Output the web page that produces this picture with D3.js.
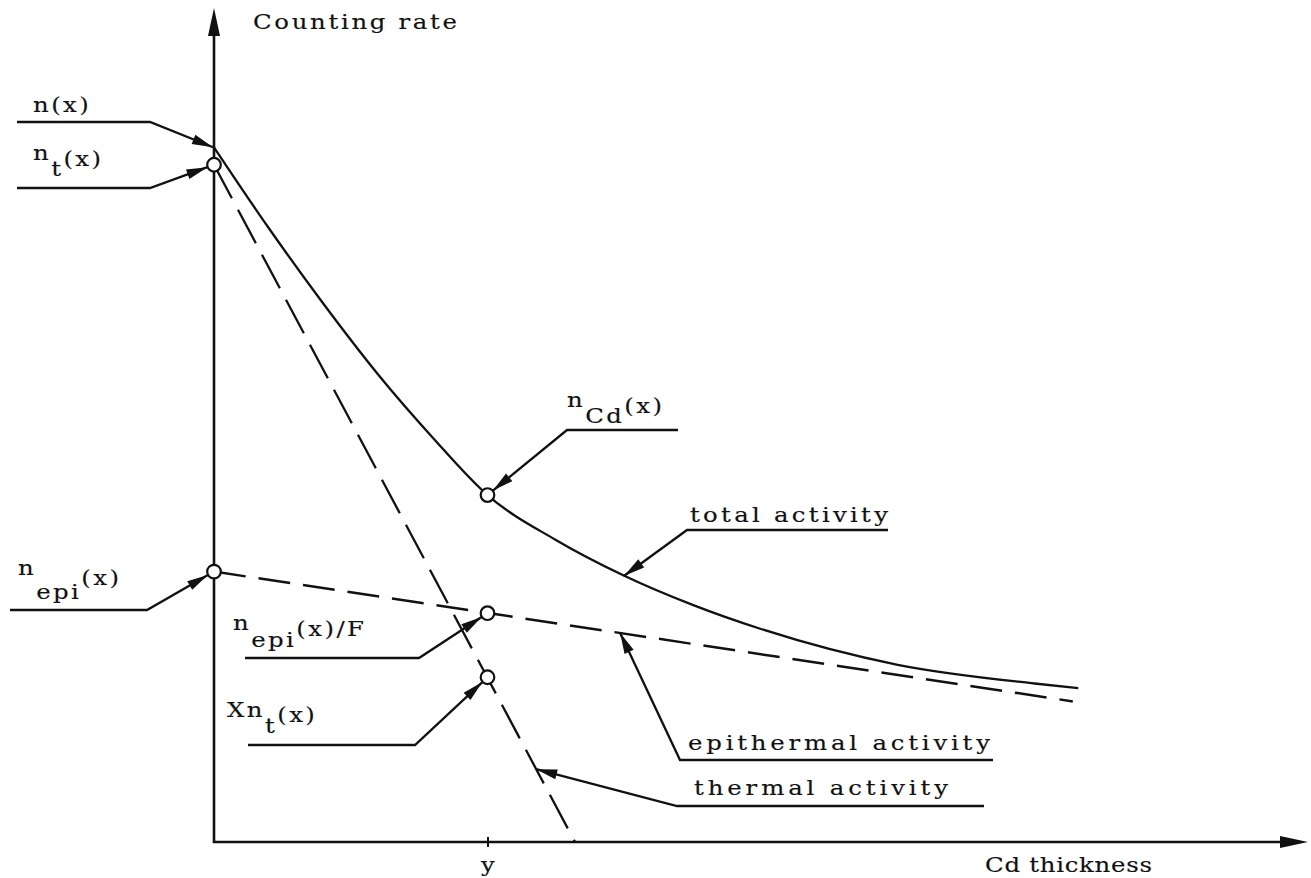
<!DOCTYPE html>
<html>
<head>
<meta charset="utf-8">
<script src="https://cdn.jsdelivr.net/npm/d3@7"></script>
<style>
  body { margin: 0; background: #fff; }
  text { font-family: "DejaVu Serif", serif; font-size: 20px; fill: #111; stroke: #111; stroke-width: 0.15px; }
</style>
</head>
<body>
<svg id="chart" width="1311" height="878"></svg>
<script>
// Cd thickness (x, arbitrary units, y = 1) and counting rate
const totalThickness = [0, 0.2, 0.4, 0.6, 0.8, 1.0, 1.25, 1.5, 1.75, 2.0, 2.5, 3.0, 3.16];
const totalRate = [83.5, 73.8, 64.7, 56.2, 48.6, 41.7, 36.3, 32.0, 28.5, 25.6, 21.3, 19.05, 18.5];
const epiThickness = [0, 3.14];
const epiRate = [32.5, 16.9];
const thermalThickness = [0, 1.32];
const thermalRate = [81.4, 0];
// open circles: n_t(x), n_epi(x), n_Cd(x), n_epi(x)/F, Xn_t(x)
const markThickness = [0, 0, 1, 1, 1];
const markRate = [81.4, 32.5, 41.7, 27.5, 19.8];
const tickValues = [1];
const tickLabels = ['y'];
const xTitle = 'Cd thickness';
const yTitle = 'Counting rate';

const width = 1311, height = 878;
const ink = '#111';
const stretch = 1.22; // typewriter glyphs are wider than the font's

const x = d3.scaleLinear().domain([0, 4]).range([214, 1308]);
const y = d3.scaleLinear().domain([0, 100]).range([842, 10]);

const svg = d3.select('#chart');
svg.append('rect').attr('width', width).attr('height', height).attr('fill', '#fff');

// triangle with its point at tip, pointing away from "from"
const arrowHead = (tip, from, len, half) => {
    const dx = tip[0] - from[0], dy = tip[1] - from[1];
    const d = Math.hypot(dx, dy), ux = dx / d, uy = dy / d;
    const bx = tip[0] - ux * len, by = tip[1] - uy * len;
    return [tip, [bx - uy * half, by + ux * half], [bx + uy * half, by - ux * half]];
};

const addText = (px, py) => svg.append('text')
    .attr('transform', `translate(${px},${py}) scale(${stretch},1)`);

// axes with arrows
const x0 = x(0), y0 = y(0);
const yTop = [x0, y.range()[1] - 2], xEnd = [x.range()[1], y0];
svg.append('line').attr('x1', x0).attr('y1', y0 + 1).attr('x2', x0).attr('y2', yTop[1] + 10)
    .attr('stroke', ink).attr('stroke-width', 2.6);
svg.append('line').attr('x1', x0 - 1).attr('y1', y0).attr('x2', xEnd[0] - 10).attr('y2', y0)
    .attr('stroke', ink).attr('stroke-width', 2.6);
svg.append('polygon').attr('points', arrowHead(yTop, [x0, y0], 28, 6).join(' ')).attr('fill', ink);
svg.append('polygon').attr('points', arrowHead(xEnd, [x0, y0], 28, 6).join(' ')).attr('fill', ink);

const xAxis = svg.append('g')
    .attr('transform', `translate(0,${y0})`)
    .call(d3.axisBottom(x).tickValues(tickValues).tickFormat((d, i) => tickLabels[i])
        .tickSize(5).tickPadding(11));
xAxis.select('.domain').remove();
xAxis.selectAll('.tick line').attr('y1', -5).attr('y2', 5).attr('stroke', ink).attr('stroke-width', 2);
xAxis.selectAll('.tick text').attr('fill', ink)
    .attr('font-family', '"DejaVu Serif", serif').attr('font-size', 20)
    .attr('transform', `scale(${stretch},1)`);

addText(985, 872).attr('textLength', 167 / stretch).text(xTitle);
addText(253, 29).attr('textLength', 204 / stretch).text(yTitle);

// curves
const pts = (xs, ys) => xs.map((d, i) => [d, ys[i]]);
const line = d3.line().x(d => x(d[0])).y(d => y(d[1]));

svg.append('path').attr('d', line.curve(d3.curveMonotoneX)(pts(totalThickness, totalRate)))
    .attr('fill', 'none').attr('stroke', ink).attr('stroke-width', 2.3);
line.curve(d3.curveLinear);
svg.append('path').attr('d', line(pts(epiThickness, epiRate)))
    .attr('fill', 'none').attr('stroke', ink).attr('stroke-width', 2.5).attr('stroke-dasharray', '32,13');
svg.append('path').attr('d', line(pts(thermalThickness, thermalRate)))
    .attr('fill', 'none').attr('stroke', ink).attr('stroke-width', 2.3).attr('stroke-dasharray', '38,13');

svg.selectAll('circle.mark')
    .data(pts(markThickness, markRate))
    .enter().append('circle')
    .attr('class', 'mark')
    .attr('cx', d => x(d[0]))
    .attr('cy', d => y(d[1]))
    .attr('r', 6.8)
    .attr('fill', '#fff').attr('stroke', ink).attr('stroke-width', 2.2);

// labels with leader lines: parts are [text, baseline shift], line is [far x, elbow x, y]
const epiAt = d3.scaleLinear(epiThickness, epiRate);
const thermalAt = d3.scaleLinear(thermalThickness, thermalRate);
const markAt = i => [x(markThickness[i]), y(markRate[i])];
const notes = [
    { parts: [['n', 0], ['(x)', 0]], x: 33, y: 112, line: [17, 150, 122],
      target: [x(0) - 1, y(totalRate[0])], gap: 0 },
    { parts: [['n', 0], ['t', 16], ['(x)', 6]], x: 33, y: 160, line: [17, 150, 188],
      target: markAt(0), gap: 7 },
    { parts: [['n', 0], ['epi', 24], ['(x)', 10]], x: 18, y: 575, line: [10, 147, 610],
      target: markAt(1), gap: 7 },
    { parts: [['n', 0], ['Cd', 16], ['(x)', 6]], x: 567, y: 407, line: [678, 567, 430],
      target: markAt(2), gap: 7 },
    { parts: [['total activity', 0]], x: 690, y: 522, width: 198, line: [888, 687, 530],
      target: [x(1.5), y(totalRate[7])], gap: 0 },
    { parts: [['n', 0], ['epi', 17], ['(x)/F', 6]], x: 233, y: 630, line: [245, 419, 658],
      target: markAt(3), gap: 7 },
    { parts: [['Xn', 0], ['t', 16], ['(x)', 5]], x: 227, y: 717, line: [248, 415, 745],
      target: markAt(4), gap: 7 },
    { parts: [['epithermal activity', 0]], x: 688, y: 750, width: 302, line: [993, 680, 760],
      target: [x(1.485), y(epiAt(1.485))], gap: 0 },
    { parts: [['thermal activity', 0]], x: 694, y: 795, width: 254, line: [984, 677, 806],
      target: [x(1.178), y(thermalAt(1.178))], gap: 0 }
];

notes.forEach(n => {
    const elbow = [n.line[1], n.line[2]];
    const t0 = n.target;
    const d = Math.hypot(elbow[0] - t0[0], elbow[1] - t0[1]);
    const tip = [t0[0] + (elbow[0] - t0[0]) / d * n.gap, t0[1] + (elbow[1] - t0[1]) / d * n.gap];

    svg.append('path')
        .attr('d', d3.line()([[n.line[0], n.line[2]], elbow, tip]))
        .attr('fill', 'none').attr('stroke', ink).attr('stroke-width', 2.3);
    svg.append('polygon').attr('points', arrowHead(tip, elbow, 21, 5).join(' ')).attr('fill', ink);

    const label = addText(n.x, n.y);
    if (n.width) {
        label.attr('textLength', n.width / stretch).text(n.parts[0][0]);
    } else {
        label.attr('letter-spacing', 2);
        let prev = 0;
        n.parts.forEach(([s, off]) => {
            label.append('tspan').attr('dy', off - prev).text(s);
            prev = off;
        });
    }
});
</script>
</body>
</html>
